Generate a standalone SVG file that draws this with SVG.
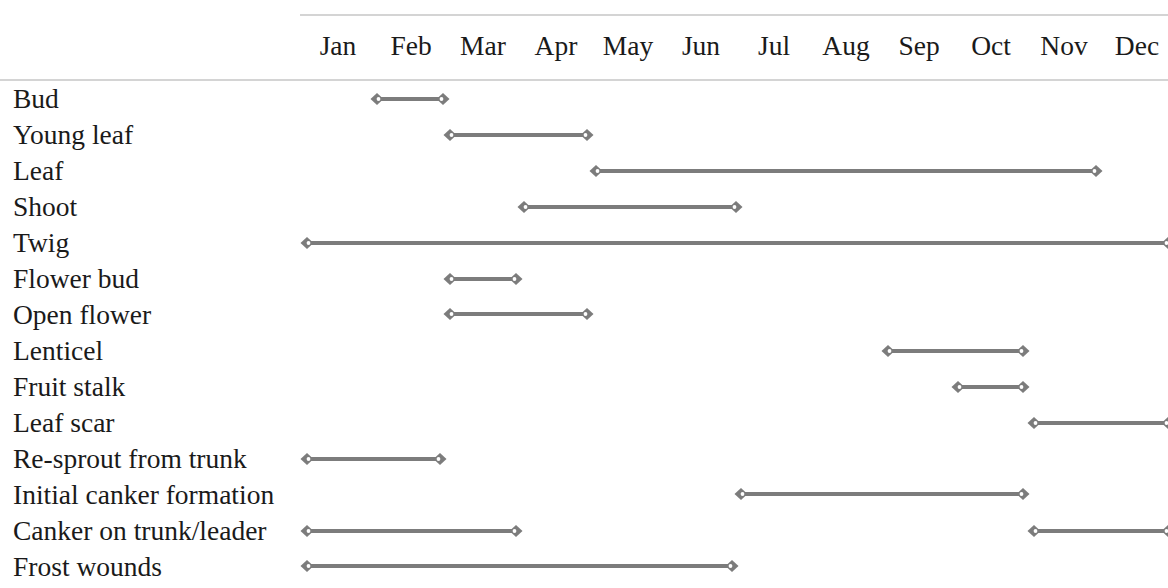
<svg xmlns="http://www.w3.org/2000/svg" width="1168" height="588" viewBox="0 0 1168 588">
<style>
.t{font-family:"Liberation Serif","Times New Roman",Tinos,"DejaVu Serif",serif;font-size:27.5px;fill:#1a1a1a}
.m{text-anchor:middle}
.rule{stroke:#d4d4d4;stroke-width:2;fill:none}
.bar{stroke:#7c7c7c;stroke-width:3.8;fill:none;marker-start:url(#dia);marker-end:url(#dia)}
</style>
<defs>
<marker id="dia" markerUnits="userSpaceOnUse" viewBox="-8 -8 16 16" refX="0" refY="0" markerWidth="16" markerHeight="16" orient="auto-start-reverse">
<polygon points="6.5,0 0,-6 -6.5,0 0,6" fill="#7c7c7c"/>
<circle cx="-1.5" cy="0" r="1.9" fill="#ffffff"/>
</marker>
</defs>
<rect width="1168" height="588" fill="#ffffff"/>
<g id="header">
<line class="rule" x1="300" y1="15" x2="1168" y2="15"/>
<line class="rule" x1="0" y1="80" x2="1168" y2="80"/>
<text class="t m" x="338" y="55">Jan</text>
<text class="t m" x="411" y="55">Feb</text>
<text class="t m" x="483" y="55">Mar</text>
<text class="t m" x="556" y="55">Apr</text>
<text class="t m" x="628" y="55">May</text>
<text class="t m" x="701" y="55">Jun</text>
<text class="t m" x="774" y="55">Jul</text>
<text class="t m" x="846" y="55">Aug</text>
<text class="t m" x="919" y="55">Sep</text>
<text class="t m" x="991" y="55">Oct</text>
<text class="t m" x="1064" y="55">Nov</text>
<text class="t m" x="1137" y="55">Dec</text>
</g>
<g id="labels">
<text class="t" x="13" y="108">Bud</text>
<text class="t" x="13" y="144">Young leaf</text>
<text class="t" x="13" y="180">Leaf</text>
<text class="t" x="13" y="216">Shoot</text>
<text class="t" x="13" y="252">Twig</text>
<text class="t" x="13" y="288">Flower bud</text>
<text class="t" x="13" y="324">Open flower</text>
<text class="t" x="13" y="360">Lenticel</text>
<text class="t" x="13" y="396">Fruit stalk</text>
<text class="t" x="13" y="432">Leaf scar</text>
<text class="t" x="13" y="468">Re-sprout from trunk</text>
<text class="t" x="13" y="504">Initial canker formation</text>
<text class="t" x="13" y="540">Canker on trunk/leader</text>
<text class="t" x="13" y="576">Frost wounds</text>
</g>
<g id="connectors">
<line id="bud" class="bar" x1="377" y1="99" x2="443" y2="99"/>
<line id="young-leaf" class="bar" x1="450" y1="135" x2="587" y2="135"/>
<line id="leaf" class="bar" x1="596" y1="171" x2="1096" y2="171"/>
<line id="shoot" class="bar" x1="524" y1="207" x2="736" y2="207"/>
<line id="twig" class="bar" x1="307" y1="243" x2="1168" y2="243"/>
<line id="flower-bud" class="bar" x1="450" y1="279" x2="516" y2="279"/>
<line id="open-flower" class="bar" x1="450" y1="314" x2="587" y2="314"/>
<line id="lenticel" class="bar" x1="888" y1="351" x2="1023" y2="351"/>
<line id="fruit-stalk" class="bar" x1="958" y1="387" x2="1023" y2="387"/>
<line id="leaf-scar" class="bar" x1="1034" y1="423" x2="1168" y2="423"/>
<line id="re-sprout" class="bar" x1="307" y1="459" x2="440" y2="459"/>
<line id="initial-canker" class="bar" x1="741" y1="494" x2="1023" y2="494"/>
<line id="canker-1" class="bar" x1="307" y1="531" x2="516" y2="531"/>
<line id="canker-2" class="bar" x1="1034" y1="531" x2="1168" y2="531"/>
<line id="frost" class="bar" x1="307" y1="566" x2="732" y2="566"/>
</g>
</svg>
